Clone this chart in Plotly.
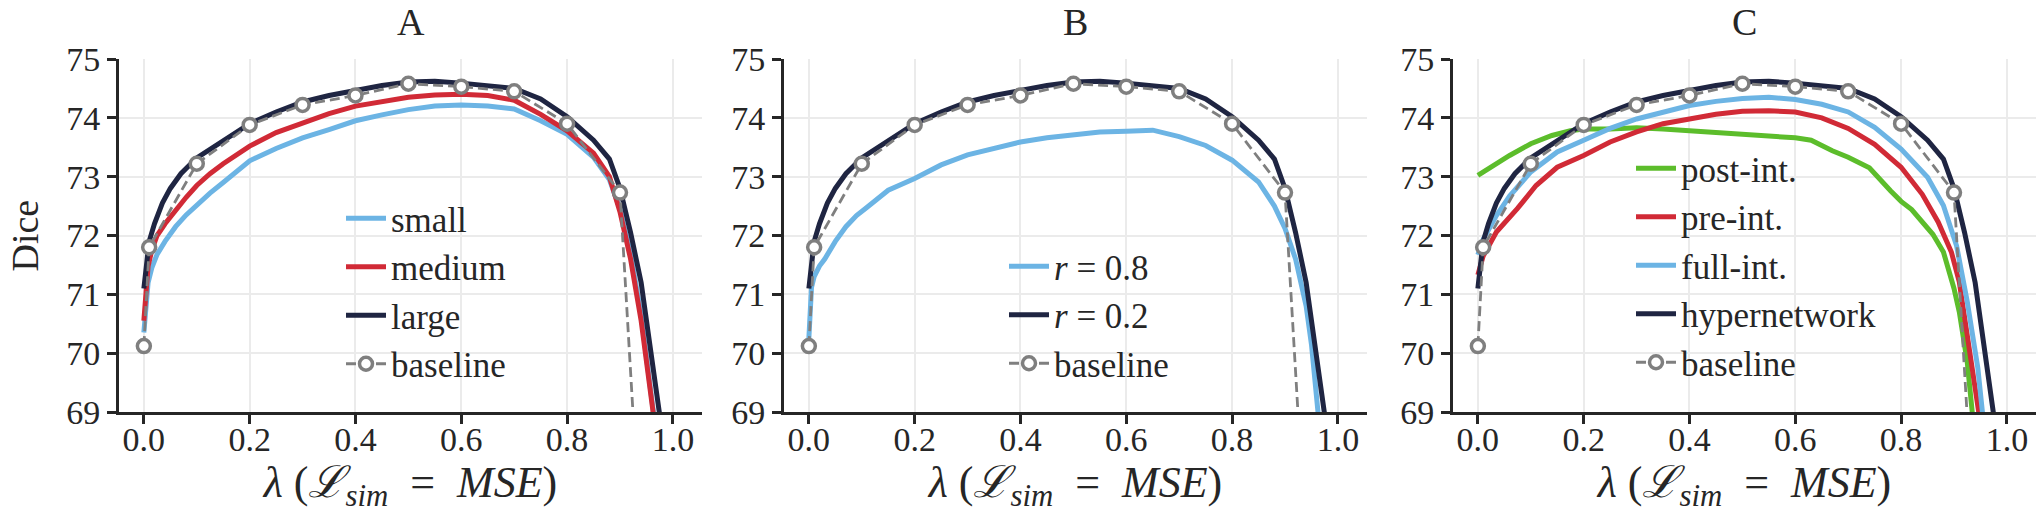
import plotly.graph_objects as go

# ---------------- data ----------------
base_x = [0.0, 0.01, 0.1, 0.2, 0.3, 0.4, 0.5, 0.6, 0.7, 0.8, 0.9, 1.0]
base_y = [70.12, 71.8, 73.22, 73.88, 74.22, 74.38, 74.58, 74.53, 74.45, 73.9, 72.73, 57.5]

hyper_x = [0.0, 0.005, 0.01, 0.02, 0.035, 0.05, 0.07, 0.1, 0.15, 0.2, 0.25, 0.3, 0.35, 0.4,
           0.45, 0.5, 0.55, 0.6, 0.65, 0.7, 0.75, 0.8, 0.85, 0.88, 0.9, 0.92, 0.94, 0.96,
           0.975, 0.99, 1.0]
hyper_y = [71.1, 71.6, 71.9, 72.2, 72.55, 72.8, 73.05, 73.32, 73.62, 73.9, 74.1, 74.27, 74.38,
           74.47, 74.55, 74.61, 74.62, 74.59, 74.55, 74.5, 74.32, 74.02, 73.62, 73.3, 72.8,
           72.05, 71.2, 69.95, 68.95, 67.5, 66.3]

small_x = [0.0, 0.004, 0.008, 0.015, 0.025, 0.04, 0.06, 0.08, 0.1, 0.125, 0.15, 0.175, 0.2,
           0.25, 0.3, 0.35, 0.4, 0.45, 0.5, 0.55, 0.6, 0.65, 0.7, 0.75, 0.8, 0.85, 0.88, 0.9,
           0.92, 0.94, 0.96, 0.98, 1.0]
small_y = [70.35, 70.85, 71.2, 71.45, 71.68, 71.9, 72.15, 72.35, 72.52, 72.72, 72.9, 73.08,
           73.27, 73.48, 73.66, 73.8, 73.95, 74.05, 74.14, 74.2, 74.22, 74.2, 74.15, 73.95,
           73.72, 73.33, 72.95, 72.45, 71.7, 70.65, 69.4, 67.8, 66.0]

medium_x = [0.0, 0.004, 0.008, 0.015, 0.025, 0.04, 0.06, 0.08, 0.1, 0.125, 0.15, 0.175, 0.2,
            0.25, 0.3, 0.35, 0.4, 0.45, 0.5, 0.55, 0.6, 0.65, 0.7, 0.75, 0.8, 0.85, 0.88, 0.9,
            0.92, 0.94, 0.96, 0.98, 1.0]
medium_y = [70.55, 71.1, 71.48, 71.75, 72.0, 72.2, 72.43, 72.65, 72.85, 73.05, 73.22, 73.38,
            73.52, 73.75, 73.92, 74.07, 74.2, 74.28, 74.35, 74.39, 74.4, 74.38, 74.3, 74.06,
            73.78, 73.4, 73.0, 72.4, 71.6, 70.55, 69.35, 67.8, 66.0]

r08_x = [0.0, 0.005, 0.01, 0.02, 0.03, 0.05, 0.07, 0.09, 0.11, 0.15, 0.2, 0.25, 0.3, 0.35,
         0.4, 0.45, 0.5, 0.55, 0.6, 0.65, 0.7, 0.75, 0.8, 0.85, 0.88, 0.9, 0.92, 0.94, 0.95,
         0.96, 0.98, 1.0]
r08_y = [70.25, 71.12, 71.3, 71.48, 71.6, 71.9, 72.15, 72.34, 72.48, 72.77, 72.97, 73.2,
         73.37, 73.49, 73.59, 73.66, 73.72, 73.76, 73.77, 73.79, 73.68, 73.53, 73.28, 72.91,
         72.5, 72.12, 71.6, 70.8, 70.15, 69.1, 67.3, 65.5]

post_x = [0.0, 0.03, 0.06, 0.1, 0.14, 0.175, 0.2, 0.25, 0.3, 0.35, 0.4, 0.45, 0.5, 0.55, 0.6,
          0.63, 0.67, 0.7, 0.74, 0.78, 0.8, 0.82, 0.86, 0.88, 0.9, 0.91, 0.925, 0.935, 0.95, 1.0]
post_y = [73.02, 73.19, 73.36, 73.56, 73.7, 73.78, 73.81, 73.81, 73.83, 73.81, 73.78, 73.74,
          73.7, 73.68, 73.66, 73.62, 73.44, 73.33, 73.15, 72.76, 72.58, 72.44, 72.02, 71.72,
          71.1, 70.7, 69.85, 68.95, 67.8, 64.0]

pre_x = [0.0, 0.01, 0.035, 0.075, 0.11, 0.15, 0.2, 0.25, 0.3, 0.35, 0.4, 0.45, 0.5, 0.55, 0.6,
         0.65, 0.7, 0.75, 0.8, 0.84, 0.87, 0.895, 0.91, 0.925, 0.94, 0.96, 1.0]
pre_y = [71.33, 71.65, 72.06, 72.46, 72.85, 73.16, 73.36, 73.59, 73.76, 73.9, 73.98, 74.06,
         74.11, 74.12, 74.1, 74.0, 73.82, 73.55, 73.16, 72.7, 72.23, 71.72, 71.21, 70.37,
         69.55, 68.2, 65.0]

full_x = [0.0, 0.01, 0.035, 0.06, 0.1, 0.15, 0.2, 0.25, 0.3, 0.35, 0.4, 0.45, 0.5, 0.55, 0.6,
          0.65, 0.7, 0.75, 0.8, 0.85, 0.88, 0.905, 0.925, 0.945, 0.955, 0.97, 1.0]
full_y = [71.67, 71.93, 72.34, 72.67, 73.08, 73.42, 73.62, 73.82, 73.98, 74.1, 74.21, 74.28,
          74.33, 74.35, 74.31, 74.23, 74.1, 73.84, 73.47, 72.99, 72.51, 71.82, 70.88, 69.75,
          69.0, 67.6, 65.0]

panel_titles = ["A", "B", "C"]
x_ticks = [0.0, 0.2, 0.4, 0.6, 0.8, 1.0]
x_ticklabels = ["0.0", "0.2", "0.4", "0.6", "0.8", "1.0"]
y_ticks = [69, 70, 71, 72, 73, 74, 75]
y_ticklabels = ["69", "70", "71", "72", "73", "74", "75"]

# ---------------- styles ----------------
NAVY = "#1f2542"
RED = "#d12a36"
LBLUE = "#6cb4e4"
GREEN = "#5cbd2b"
GRAY = "#7f7f7f"
FONT = "Liberation Serif"
INK = "#262626"

fig = go.Figure()


def solid(x, y, name, color, ax, leg):
    fig.add_trace(go.Scatter(
        x=x, y=y, name=name, mode="lines",
        line=dict(color=color, width=5),
        xaxis="x" + ax, yaxis="y" + ax, legend=leg,
        legendgroup=leg + name, showlegend=True))


def baseline(ax, leg):
    fig.add_trace(go.Scatter(
        x=base_x, y=base_y, name="baseline", mode="lines+markers",
        line=dict(color=GRAY, width=2.8, dash="10px,5px"),
        marker=dict(symbol="circle", size=13, color="white",
                    line=dict(color=GRAY, width=3.5)),
        cliponaxis=True,
        xaxis="x" + ax, yaxis="y" + ax, legend=leg,
        legendgroup=leg + "baseline"))


# Panel A
solid(small_x, small_y, "small", LBLUE, "", "legend")
solid(medium_x, medium_y, "medium", RED, "", "legend")
solid(hyper_x, hyper_y, "large", NAVY, "", "legend")
baseline("", "legend")

# Panel B
solid(r08_x, r08_y, "<i>r</i> = 0.8", LBLUE, "2", "legend2")
solid(hyper_x, hyper_y, "<i>r</i> = 0.2", NAVY, "2", "legend2")
baseline("2", "legend2")

# Panel C
solid(post_x, post_y, "post-int.", GREEN, "3", "legend3")
solid(pre_x, pre_y, "pre-int.", RED, "3", "legend3")
solid(full_x, full_y, "full-int.", LBLUE, "3", "legend3")
solid(hyper_x, hyper_y, "hypernetwork", NAVY, "3", "legend3")
baseline("3", "legend3")

W, H = 2040, 528
y_dom = [1 - 412 / H, 1 - 59 / H]
x_doms = [[119 / W, 702 / W], [784 / W, 1367 / W], [1453 / W, 2036 / W]]

xlabel = "<i>λ</i> (<i>ℒ</i><sub><i>sim</i></sub>\u2002=\u2002<i>MSE</i>)"

axis_common = dict(
    showline=True, linecolor=INK, linewidth=3,
    ticks="outside", ticklen=9, tickwidth=2.5, tickcolor=INK,
    showgrid=True, gridcolor="#ebebeb", gridwidth=1.5,
    zeroline=False, automargin=False,
    tickfont=dict(family=FONT, size=34, color=INK),
)

layout = dict(
    width=W, height=H,
    margin=dict(l=0, r=0, t=0, b=0, autoexpand=False),
    paper_bgcolor="white", plot_bgcolor="white",
    font=dict(family=FONT, color=INK),
    annotations=[],
)

for i, ax in enumerate(["", "2", "3"]):
    layout["xaxis" + ax] = dict(
        axis_common, domain=x_doms[i], range=[-0.047, 1.055],
        tickvals=x_ticks, ticktext=x_ticklabels,
        anchor="y" + ax, ticklabelstandoff=-14,
        title=dict(text=xlabel, font=dict(family=FONT, size=44, color=INK), standoff=4),
    )
    layout["yaxis" + ax] = dict(
        axis_common, domain=y_dom, range=[69, 75],
        tickvals=y_ticks, ticktext=y_ticklabels,
        anchor="x" + ax,
    )
    layout["annotations"].append(dict(
        text=panel_titles[i], x=(x_doms[i][0] + x_doms[i][1]) / 2, y=1.0,
        xref="paper", yref="paper", showarrow=False, borderpad=0,
        font=dict(family=FONT, size=38, color=INK), xanchor="center", yanchor="top"))

# y-axis title of the first panel
layout["annotations"].append(dict(
    text="Dice", x=2 / W, y=(y_dom[0] + y_dom[1]) / 2, xref="paper", yref="paper",
    showarrow=False, textangle=-90, xanchor="left", yanchor="middle", borderpad=0,
    font=dict(family=FONT, size=38, color=INK)))

leg_common = dict(font=dict(family=FONT, size=35, color=INK), bgcolor="rgba(0,0,0,0)",
                  borderwidth=0, tracegroupgap=0, xanchor="left", yanchor="top",
                  itemwidth=40)
layout["legend"] = dict(leg_common, x=341 / W, y=1 - 189 / H)
layout["legend2"] = dict(leg_common, x=1004 / W, y=1 - 237 / H)
layout["legend3"] = dict(leg_common, x=1631 / W, y=1 - 139 / H)

fig.update_layout(**layout)
fig.write_html("out.html",
               config={"displayModeBar": False},
               post_script="document.body.style.margin='0px';"
                           "document.body.style.padding='0px';")
